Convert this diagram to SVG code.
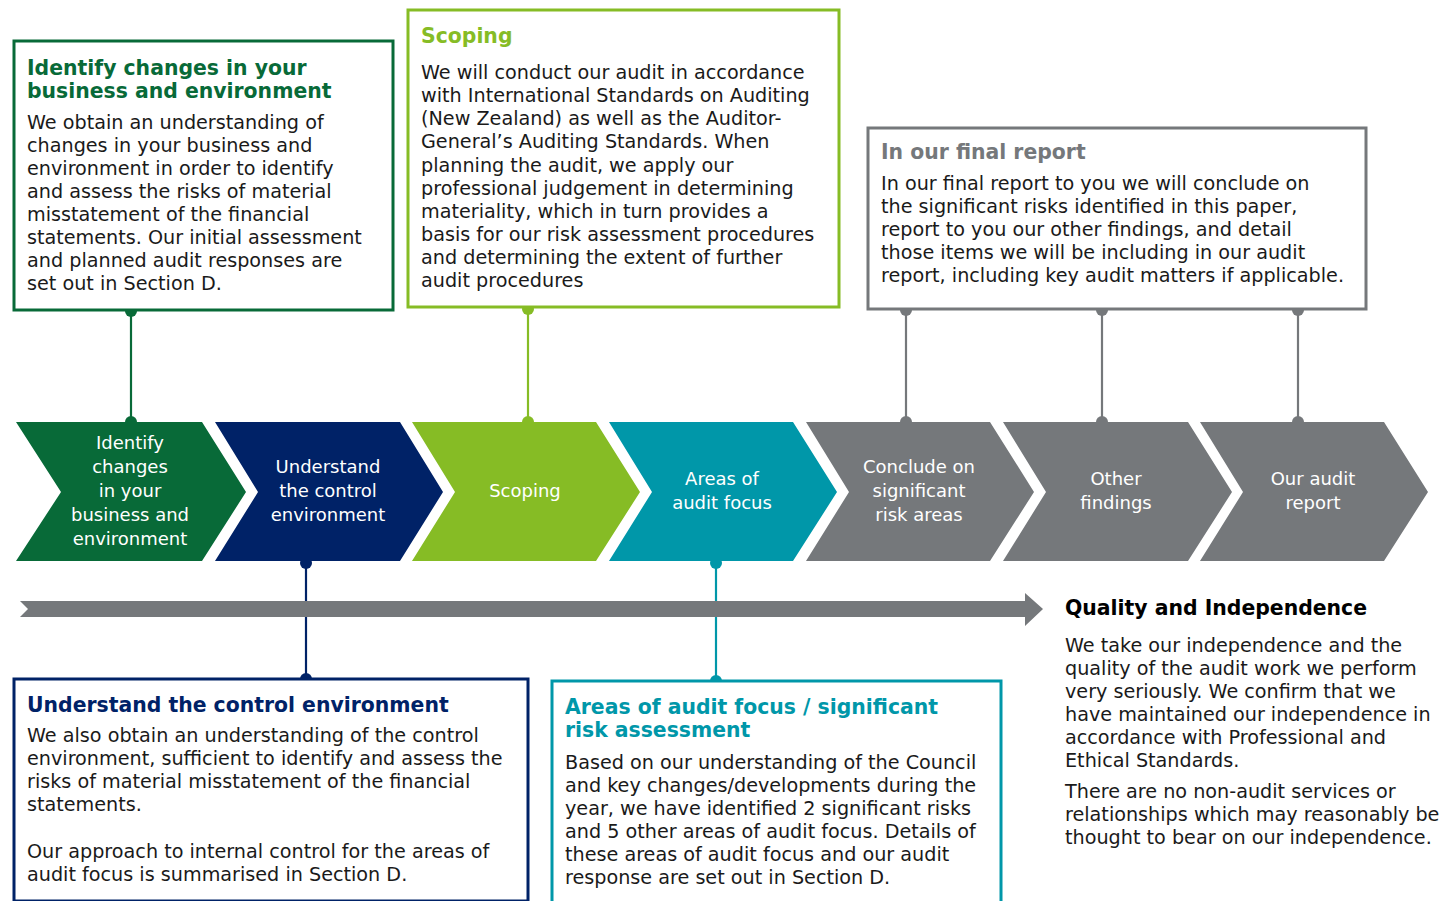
<svg xmlns="http://www.w3.org/2000/svg" width="1446" height="901" viewBox="0 0 1446 901">
<style>
text{font-family:"DejaVu Sans","Verdana",sans-serif}
.chv{font-size:18px;fill:#fff;text-anchor:middle}
.ttl{font-size:20.4px;font-weight:bold}
.body{font-size:19.2px;fill:#1a1a1a}
.box{fill:#fff;stroke-width:3}
.green{fill:#086a38}.navy{fill:#002267}.lime{fill:#86bc25}.teal{fill:#0097a9}.grey{fill:#75787b}
</style>
<rect width="1446" height="901" fill="#fff"/>

<g id="connectors" stroke-width="2.2">
<line x1="131" y1="311" x2="131" y2="422" stroke="#086a38"/>
<circle cx="131" cy="311" r="6" fill="#086a38"/><circle cx="131" cy="422" r="6" fill="#086a38"/>
<line x1="528" y1="308" x2="528" y2="422" stroke="#86bc25"/>
<circle cx="528" cy="309" r="6" fill="#86bc25"/><circle cx="528" cy="422" r="6" fill="#86bc25"/>
<line x1="906" y1="309" x2="906" y2="422" stroke="#75787b"/>
<circle cx="906" cy="310" r="6" fill="#75787b"/><circle cx="906" cy="422" r="6" fill="#75787b"/>
<line x1="1102" y1="309" x2="1102" y2="422" stroke="#75787b"/>
<circle cx="1102" cy="310" r="6" fill="#75787b"/><circle cx="1102" cy="422" r="6" fill="#75787b"/>
<line x1="1298" y1="309" x2="1298" y2="422" stroke="#75787b"/>
<circle cx="1298" cy="310" r="6" fill="#75787b"/><circle cx="1298" cy="422" r="6" fill="#75787b"/>
<line x1="306" y1="561" x2="306" y2="679" stroke="#002267"/>
<circle cx="306" cy="563" r="6" fill="#002267"/><circle cx="306" cy="679" r="6" fill="#002267"/>
<line x1="716" y1="561" x2="716" y2="681" stroke="#0097a9"/>
<circle cx="716" cy="563" r="6" fill="#0097a9"/><circle cx="716" cy="681" r="6" fill="#0097a9"/>
</g>

<g id="timeline-arrow">
<polygon class="grey" points="20,601 1025,601 1025,593 1043,609 1025,626 1025,617 20,617 28,609"/>
</g>

<g id="chevron-1">
<polygon class="green" points="16,422 202,422 246,492 202,561 16,561 61,492"/>
<text class="chv"><tspan x="130" y="449">Identify</tspan><tspan x="130" y="473">changes</tspan><tspan x="130" y="497">in your</tspan><tspan x="130" y="521">business and</tspan><tspan x="130" y="545">environment</tspan></text>
</g>
<g id="chevron-2">
<polygon class="navy" points="215,422 400,422 443,492 400,561 215,561 258,492"/>
<text class="chv"><tspan x="328" y="473">Understand</tspan><tspan x="328" y="497">the control</tspan><tspan x="328" y="521">environment</tspan></text>
</g>
<g id="chevron-3">
<polygon class="lime" points="412,422 596,422 640,492 596,561 412,561 455,492"/>
<text class="chv"><tspan x="525" y="497">Scoping</tspan></text>
</g>
<g id="chevron-4">
<polygon class="teal" points="609,422 793,422 837,492 793,561 609,561 652,492"/>
<text class="chv"><tspan x="722" y="485">Areas of</tspan><tspan x="722" y="509">audit focus</tspan></text>
</g>
<g id="chevron-5">
<polygon class="grey" points="806,422 990,422 1034,492 990,561 806,561 849,492"/>
<text class="chv"><tspan x="919" y="473">Conclude on</tspan><tspan x="919" y="497">significant</tspan><tspan x="919" y="521">risk areas</tspan></text>
</g>
<g id="chevron-6">
<polygon class="grey" points="1003,422 1188,422 1232,492 1188,561 1003,561 1046,492"/>
<text class="chv"><tspan x="1116" y="485">Other</tspan><tspan x="1116" y="509">findings</tspan></text>
</g>
<g id="chevron-7">
<polygon class="grey" points="1200,422 1384,422 1428,492 1384,561 1200,561 1243,492"/>
<text class="chv"><tspan x="1313" y="485">Our audit</tspan><tspan x="1313" y="509">report</tspan></text>
</g>

<g id="box-identify">
<rect class="box" x="14" y="41" width="379" height="269" stroke="#086a38"/>
<text class="ttl" fill="#086a38"><tspan x="27" y="75">Identify changes in your</tspan><tspan x="27" y="98">business and environment</tspan></text>
<text class="body"><tspan x="27" y="129">We obtain an understanding of</tspan><tspan x="27" y="152">changes in your business and</tspan><tspan x="27" y="175">environment in order to identify</tspan><tspan x="27" y="198">and assess the risks of material</tspan><tspan x="27" y="221">misstatement of the financial</tspan><tspan x="27" y="244">statements. Our initial assessment</tspan><tspan x="27" y="267">and planned audit responses are</tspan><tspan x="27" y="290">set out in Section D.</tspan></text>
</g>

<g id="box-scoping">
<rect class="box" x="408" y="10" width="431" height="297" stroke="#86bc25"/>
<text class="ttl" fill="#86bc25"><tspan x="421" y="43">Scoping</tspan></text>
<text class="body"><tspan x="421" y="79">We will conduct our audit in accordance</tspan><tspan x="421" y="102">with International Standards on Auditing</tspan><tspan x="421" y="125">(New Zealand) as well as the Auditor-</tspan><tspan x="421" y="148">General’s Auditing Standards. When</tspan><tspan x="421" y="172">planning the audit, we apply our</tspan><tspan x="421" y="195">professional judgement in determining</tspan><tspan x="421" y="218">materiality, which in turn provides a</tspan><tspan x="421" y="241">basis for our risk assessment procedures</tspan><tspan x="421" y="264">and determining the extent of further</tspan><tspan x="421" y="287">audit procedures</tspan></text>
</g>

<g id="box-final-report">
<rect class="box" x="868" y="128" width="498" height="181" stroke="#75787b"/>
<text class="ttl" fill="#75787b"><tspan x="881" y="159">In our final report</tspan></text>
<text class="body"><tspan x="881" y="190">In our final report to you we will conclude on</tspan><tspan x="881" y="213">the significant risks identified in this paper,</tspan><tspan x="881" y="236">report to you our other findings, and detail</tspan><tspan x="881" y="259">those items we will be including in our audit</tspan><tspan x="881" y="282">report, including key audit matters if applicable.</tspan></text>
</g>

<g id="box-control">
<rect class="box" x="14" y="679" width="514" height="222" stroke="#002267"/>
<text class="ttl" fill="#002267"><tspan x="27" y="712">Understand the control environment</tspan></text>
<text class="body"><tspan x="27" y="742">We also obtain an understanding of the control</tspan><tspan x="27" y="765">environment, sufficient to identify and assess the</tspan><tspan x="27" y="788">risks of material misstatement of the financial</tspan><tspan x="27" y="811">statements.</tspan><tspan x="27" y="858">Our approach to internal control for the areas of</tspan><tspan x="27" y="881">audit focus is summarised in Section D.</tspan></text>
</g>

<g id="box-focus">
<rect class="box" x="552" y="681" width="449" height="222" stroke="#0097a9"/>
<text class="ttl" fill="#0097a9"><tspan x="565" y="714">Areas of audit focus / significant</tspan><tspan x="565" y="737">risk assessment</tspan></text>
<text class="body"><tspan x="565" y="769">Based on our understanding of the Council</tspan><tspan x="565" y="792">and key changes/developments during the</tspan><tspan x="565" y="815">year, we have identified 2 significant risks</tspan><tspan x="565" y="838">and 5 other areas of audit focus. Details of</tspan><tspan x="565" y="861">these areas of audit focus and our audit</tspan><tspan x="565" y="884">response are set out in Section D.</tspan></text>
</g>

<g id="quality">
<text class="ttl" fill="#000"><tspan x="1065" y="615">Quality and Independence</tspan></text>
<text class="body"><tspan x="1065" y="652">We take our independence and the</tspan><tspan x="1065" y="675">quality of the audit work we perform</tspan><tspan x="1065" y="698">very seriously. We confirm that we</tspan><tspan x="1065" y="721">have maintained our independence in</tspan><tspan x="1065" y="744">accordance with Professional and</tspan><tspan x="1065" y="767">Ethical Standards.</tspan><tspan x="1065" y="798">There are no non-audit services or</tspan><tspan x="1065" y="821">relationships which may reasonably be</tspan><tspan x="1065" y="844">thought to bear on our independence.</tspan></text>
</g>
</svg>
